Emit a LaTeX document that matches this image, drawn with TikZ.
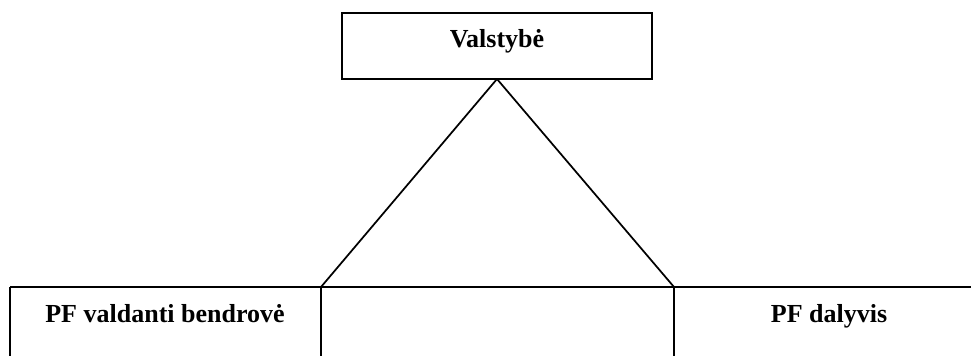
\documentclass[tikz,border=0pt]{standalone}
\usepackage{fontspec}
\setmainfont{Liberation Serif}
\begin{document}
\begin{tikzpicture}[x=0.75pt,y=-0.75pt,
  ln/.style={draw=black,line width=1.3pt},
  lbl/.style={font=\fontsize{19.5}{22}\selectfont\bfseries,anchor=base,inner sep=0pt}]
\useasboundingbox (0,0) rectangle (971,356);
\node[ln,minimum width=310*0.75pt,minimum height=66*0.75pt,inner sep=0pt] (top) at (497,46) {};
\node[lbl] (tv) at (497,48) {Valstybė};
\coordinate (apex) at (497,79);
\coordinate (bl) at (10,287);
\coordinate (br) at (971,287);
\coordinate (d1) at (321,287);
\coordinate (d2) at (674,287);
\coordinate (bl2) at (10,356);
\coordinate (d1b) at (321,356);
\coordinate (d2b) at (674,356);
\draw[ln] (apex) -- (d1);
\draw[ln] (apex) -- (d2);
\draw[ln] (bl) -- (br);
\draw[ln] (bl) -- (bl2);
\draw[ln] (d1) -- (d1b);
\draw[ln] (d2) -- (d2b);
\node[lbl] (pfv) at (165,322) {PF valdanti bendrovė};
\node[lbl] (pfd) at (829,322) {PF dalyvis};
\end{tikzpicture}
\end{document}
